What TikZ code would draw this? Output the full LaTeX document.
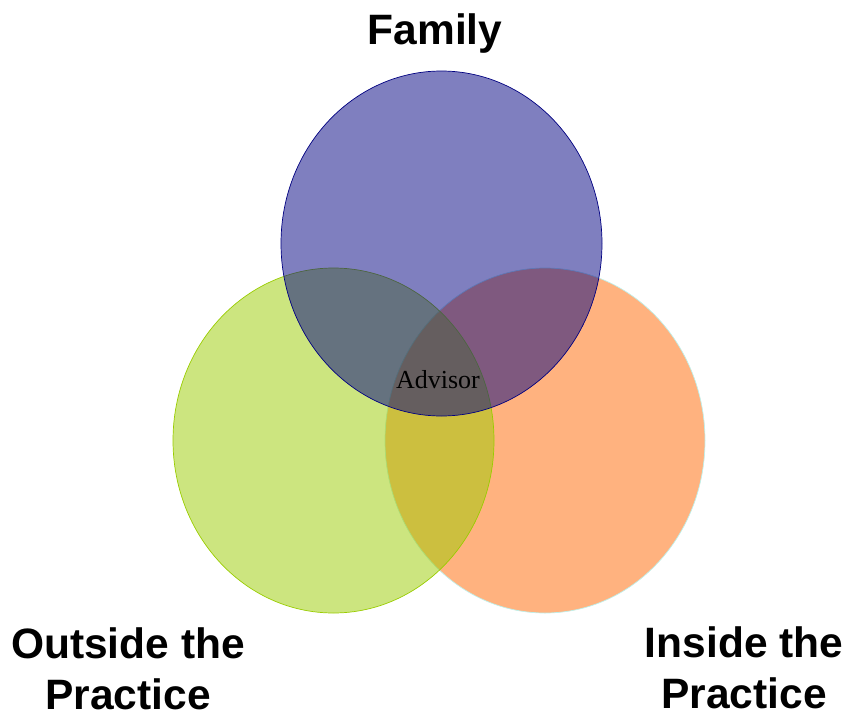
\documentclass[tikz,border=0pt]{standalone}
\usepackage{fontspec}
\setmainfont{Liberation Serif}
\newfontfamily\headfont{Liberation Sans}
\definecolor{famblue}{RGB}{0, 0, 128}
\definecolor{outgreen}{RGB}{153, 204, 0}
\definecolor{inorange}{RGB}{255, 102, 0}
\definecolor{inedge}{RGB}{190, 240, 235}
\usetikzlibrary{positioning}

\begin{document}
\begin{tikzpicture}[x=1pt, y=-1pt,
    setlabel/.style={font=\headfont\bfseries\fontsize{42.5}{51}\selectfont, align=center, inner sep=0pt, anchor=base},
    setcirc/.style={fill opacity=0.5, line width=0.7pt}]
  \useasboundingbox (0, 0) rectangle (846, 710);

  % Circle centres
  \coordinate (cfam) at (441.5, 243.5);
  \coordinate (cout) at (333.5, 440.5);
  \coordinate (cin) at (545, 440.5);

  % Three sets
  \filldraw[setcirc, fill=inorange, draw=inedge] (cin) ellipse (160 and 172.5);
  \filldraw[setcirc, fill=outgreen, draw=outgreen] (cout) ellipse (160.5 and 172.5);
  \filldraw[setcirc, fill=famblue, draw=famblue] (cfam) ellipse (160.5 and 172.5);

  % Labels (base of a two-line label is its last line)
  \node[setlabel] (family) at (435, 44) {Family};
  \node[setlabel] (outside) at (128, 709) {Outside the\\Practice};
  \node[setlabel] (inside) at (744, 708) {Inside the\\Practice};
  \node[font=\fontsize{26}{30}\selectfont, inner sep=0pt, anchor=base] (advisor) at (438, 388) {Advisor};
\end{tikzpicture}
\end{document}
